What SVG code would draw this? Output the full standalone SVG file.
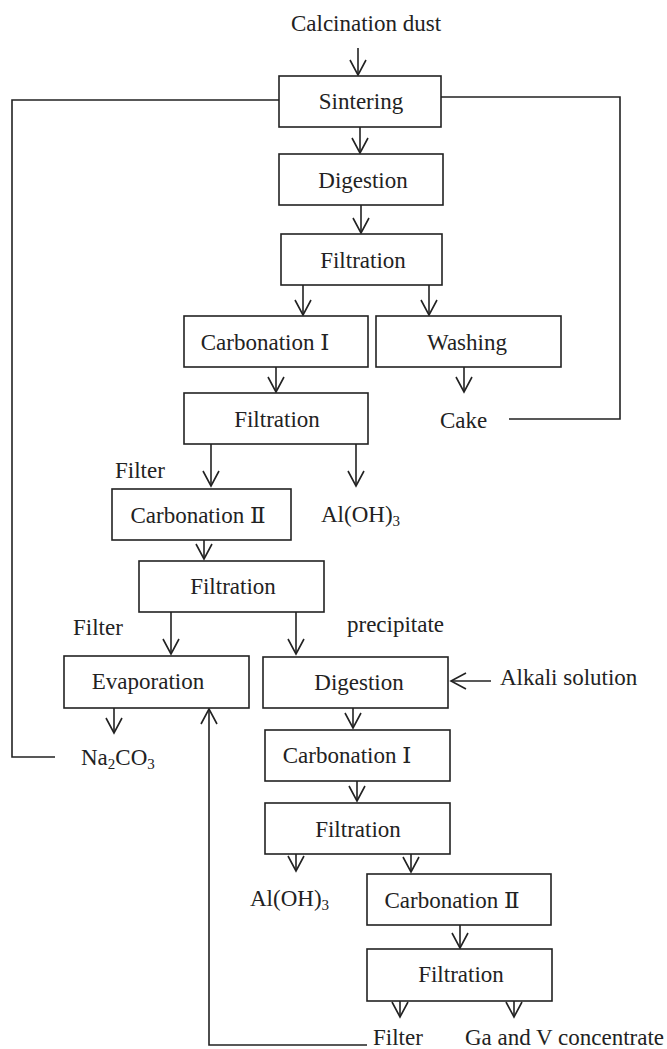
<svg xmlns="http://www.w3.org/2000/svg" width="667" height="1049" viewBox="0 0 667 1049">
  <style>
    .box { fill: #fff; stroke: #222; stroke-width: 1.6; }
    .ln { fill: none; stroke: #222; stroke-width: 1.6; }
    text { font-family: "Liberation Serif", "DejaVu Serif", "Noto Sans CJK SC", serif; font-size: 23px; fill: #222; }
    .c { text-anchor: middle; }
    .sub { font-size: 15px; }
  </style>
  <defs>
    <marker id="arrow" markerUnits="userSpaceOnUse" viewBox="0 0 18 18" refX="16" refY="9" markerWidth="18" markerHeight="18" orient="auto">
      <path d="M1,1 L16,9 L1,17" fill="none" stroke="#222" stroke-width="1.6"/>
    </marker>
  </defs>
  <rect width="667" height="1049" fill="#fff"/>

  <!-- connectors -->
  <g id="connectors">
    <line class="ln" x1="358" y1="48" x2="358" y2="75" marker-end="url(#arrow)"/>
    <line class="ln" x1="360" y1="127" x2="360" y2="153" marker-end="url(#arrow)"/>
    <line class="ln" x1="361" y1="205" x2="361" y2="233" marker-end="url(#arrow)"/>
    <line class="ln" x1="303" y1="285" x2="303" y2="315" marker-end="url(#arrow)"/>
    <line class="ln" x1="429" y1="285" x2="429" y2="315" marker-end="url(#arrow)"/>
    <line class="ln" x1="276" y1="367" x2="276" y2="392" marker-end="url(#arrow)"/>
    <line class="ln" x1="464" y1="367" x2="464" y2="392" marker-end="url(#arrow)"/>
    <line class="ln" x1="211" y1="444" x2="211" y2="486" marker-end="url(#arrow)"/>
    <line class="ln" x1="356" y1="444" x2="356" y2="486" marker-end="url(#arrow)"/>
    <line class="ln" x1="204" y1="540" x2="204" y2="559" marker-end="url(#arrow)"/>
    <line class="ln" x1="171" y1="612" x2="171" y2="654" marker-end="url(#arrow)"/>
    <line class="ln" x1="296" y1="612" x2="296" y2="654" marker-end="url(#arrow)"/>
    <line class="ln" x1="491" y1="681" x2="451" y2="681" marker-end="url(#arrow)"/>
    <line class="ln" x1="114" y1="708" x2="114" y2="733" marker-end="url(#arrow)"/>
    <line class="ln" x1="353" y1="708" x2="353" y2="728" marker-end="url(#arrow)"/>
    <line class="ln" x1="357" y1="781" x2="357" y2="801" marker-end="url(#arrow)"/>
    <line class="ln" x1="296" y1="854" x2="296" y2="871" marker-end="url(#arrow)"/>
    <line class="ln" x1="411" y1="854" x2="411" y2="872" marker-end="url(#arrow)"/>
    <line class="ln" x1="460" y1="925" x2="460" y2="948" marker-end="url(#arrow)"/>
    <line class="ln" x1="400" y1="1001" x2="400" y2="1017" marker-end="url(#arrow)"/>
    <line class="ln" x1="514" y1="1001" x2="514" y2="1017" marker-end="url(#arrow)"/>
    <!-- recycle loops -->
    <polyline class="ln" points="279,100 12,100 12,757 55,757"/>
    <polyline class="ln" points="441,97 620,97 620,419 509,419"/>
    <polyline class="ln" points="367,1045 209,1045 209,709" marker-end="url(#arrow)"/>
  </g>

  <g id="calcination-dust"><text class="c" x="366" y="31">Calcination dust</text></g>

  <g id="sintering">
    <rect class="box" x="279" y="76" width="162" height="51"/>
    <text class="c" x="361" y="109">Sintering</text>
  </g>
  <g id="digestion-1">
    <rect class="box" x="279" y="154" width="164" height="51"/>
    <text class="c" x="363" y="188">Digestion</text>
  </g>
  <g id="filtration-1">
    <rect class="box" x="281" y="234" width="161" height="51"/>
    <text class="c" x="363" y="268">Filtration</text>
  </g>
  <g id="carbonation-1a">
    <rect class="box" x="184" y="316" width="184" height="51"/>
    <text class="c" x="265" y="350">Carbonation Ⅰ</text>
  </g>
  <g id="washing">
    <rect class="box" x="376" y="316" width="185" height="51"/>
    <text class="c" x="467" y="350">Washing</text>
  </g>
  <g id="cake"><text x="440" y="428">Cake</text></g>
  <g id="filtration-2">
    <rect class="box" x="184" y="393" width="184" height="51"/>
    <text class="c" x="277" y="427">Filtration</text>
  </g>
  <g id="filter-1"><text x="115" y="478">Filter</text></g>
  <g id="aloh3-1"><text x="321" y="522">Al(OH)<tspan class="sub" dy="4">3</tspan></text></g>
  <g id="carbonation-2a">
    <rect class="box" x="112" y="489" width="179" height="51"/>
    <text class="c" x="198" y="523">Carbonation Ⅱ</text>
  </g>
  <g id="filtration-3">
    <rect class="box" x="139" y="561" width="185" height="51"/>
    <text class="c" x="233" y="594">Filtration</text>
  </g>
  <g id="filter-2"><text x="73" y="635">Filter</text></g>
  <g id="precipitate"><text x="347" y="632">precipitate</text></g>
  <g id="evaporation">
    <rect class="box" x="64" y="656" width="185" height="52"/>
    <text class="c" x="148" y="689">Evaporation</text>
  </g>
  <g id="na2co3"><text x="81" y="765">Na<tspan class="sub" dy="4">2</tspan><tspan dy="-4">CO</tspan><tspan class="sub" dy="4">3</tspan></text></g>
  <g id="digestion-2">
    <rect class="box" x="263" y="657" width="185" height="51"/>
    <text class="c" x="359" y="690">Digestion</text>
  </g>
  <g id="alkali-solution"><text x="500" y="685">Alkali solution</text></g>
  <g id="carbonation-1b">
    <rect class="box" x="265" y="730" width="185" height="51"/>
    <text class="c" x="347" y="763">Carbonation Ⅰ</text>
  </g>
  <g id="filtration-4">
    <rect class="box" x="265" y="803" width="185" height="51"/>
    <text class="c" x="358" y="837">Filtration</text>
  </g>
  <g id="aloh3-2"><text x="250" y="906">Al(OH)<tspan class="sub" dy="4">3</tspan></text></g>
  <g id="carbonation-2b">
    <rect class="box" x="367" y="874" width="184" height="51"/>
    <text class="c" x="452" y="908">Carbonation Ⅱ</text>
  </g>
  <g id="filtration-5">
    <rect class="box" x="367" y="949" width="185" height="52"/>
    <text class="c" x="461" y="982">Filtration</text>
  </g>
  <g id="filter-3"><text x="373" y="1045">Filter</text></g>
  <g id="ga-v-concentrate"><text x="465" y="1045">Ga and V concentrate</text></g>
</svg>
